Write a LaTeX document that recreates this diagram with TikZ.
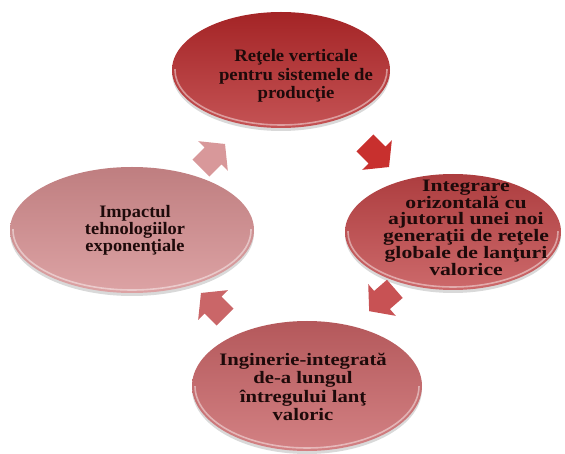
\documentclass[tikz,border=0pt]{standalone}
\usepackage{fontspec}
\setmainfont{Liberation Serif}
\usetikzlibrary{shapes.geometric,shadows,calc}
\definecolor{cTop}{RGB}{182,40,42}
\definecolor{cRight}{RGB}{192,68,70}
\definecolor{cBot}{RGB}{200,98,101}
\definecolor{cLeft}{RGB}{212,140,142}
\definecolor{aOne}{RGB}{200,48,46}
\definecolor{aTwo}{RGB}{200,82,84}
\definecolor{aThree}{RGB}{202,102,104}
\definecolor{aFour}{RGB}{216,152,154}
\definecolor{txt}{RGB}{30,10,10}
\tikzset{
  ell/.style={ellipse, inner sep=0pt, draw=none,
    drop shadow={shadow xshift=0pt, shadow yshift=-3pt, opacity=0.25, fill=black!60}},
  shell/.style={top color=#1!90!black, middle color=#1, bottom color=#1!80!white},
  rim/.style={ellipse, inner sep=0pt, draw=white, draw opacity=0.45, line width=1.6pt},
  lbl/.style={align=center, text=txt, inner sep=0pt, transform shape},
  barrow/.pic={
    \fill[pic actions] (-17,-12) -- (0,-12) -- (0,-21) -- (17,0) -- (0,21) -- (0,12) -- (-17,12) -- cycle;
  }
}
\begin{document}
\begin{tikzpicture}[x=1pt,y=-1pt]
\useasboundingbox (0,0) rectangle (565,454);
% ellipses
\node[ell, shell=cTop, minimum width=218, minimum height=116] (topE) at (281,70) {};
\node[ell, shell=cRight, minimum width=216, minimum height=116] (rightE) at (453,232) {};
\node[ell, shell=cLeft, minimum width=244, minimum height=126] (leftE) at (132,230) {};
\node[ell, shell=cBot, minimum width=230, minimum height=130] (botE) at (307,386) {};
% bottom rim highlights
\begin{scope}
\clip (172,70) rectangle (390,130);
\node[rim, minimum width=212, minimum height=110] (topH) at (topE.center) {};
\end{scope}
\begin{scope}
\clip (345,232) rectangle (562,292);
\node[rim, minimum width=210, minimum height=110] (rightH) at (rightE.center) {};
\end{scope}
\begin{scope}
\clip (10,230) rectangle (255,294);
\node[rim, minimum width=238, minimum height=120] (leftH) at (leftE.center) {};
\end{scope}
\begin{scope}
\clip (192,386) rectangle (423,452);
\node[rim, minimum width=224, minimum height=124] (botH) at (botE.center) {};
\end{scope}
% arrows
\pic[fill=aOne, rotate=-45] (arrA) at (377,155) {barrow};
\pic[fill=aTwo, rotate=-139] (arrB) at (382,300) {barrow};
\pic[fill=aThree, rotate=135] (arrC) at (213,305) {barrow};
\pic[fill=aFour, rotate=45] (arrD) at (213,156) {barrow};
% labels
\node[lbl, xscale=1.07, font=\bfseries\fontsize{17.5}{18.3}\selectfont] (topT) at (296,76)
  {Reţele verticale\\pentru sistemele de\\producţie};
\node[lbl, xscale=1.24, font=\bfseries\fontsize{17.5}{15.8}\selectfont] (rightT) at (466,228)
  {Integrare\\orizontală  cu\\ajutorul unei noi\\generaţii de reţele\\globale de lanţuri\\valorice};
\node[lbl, xscale=1.05, font=\bfseries\fontsize{17.5}{17}\selectfont] (leftT) at (135,230)
  {Impactul\\tehnologiilor\\exponenţiale};
\node[lbl, xscale=1.18, font=\bfseries\fontsize{17.5}{18.3}\selectfont] (botT) at (303,387)
  {Inginerie-integrată\\de-a lungul\\întregului lanţ\\valoric};
\end{tikzpicture}
\end{document}
